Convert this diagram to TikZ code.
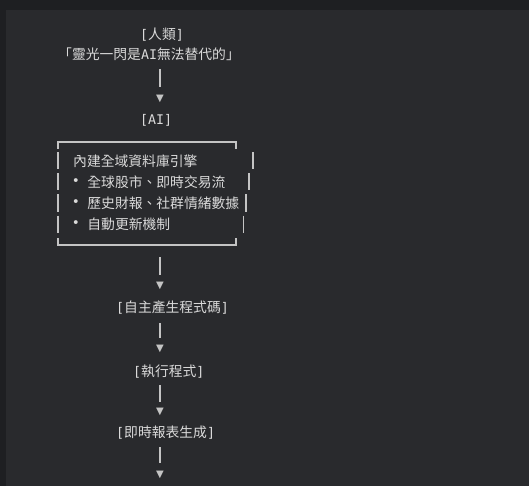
\documentclass[tikz,border=0pt]{standalone}
\usepackage{fontspec}
\setmainfont{DejaVu Sans Mono}
\newfontfamily\cjk{Noto Sans CJK TC}
\newfontfamily\sym{DejaVu Sans}
\usetikzlibrary{positioning}
\definecolor{bgdark}{HTML}{1E1F22}
\definecolor{panel}{HTML}{292A2D}
\definecolor{txt}{HTML}{DADADA}
\definecolor{rule}{HTML}{C4C4C4}
\tikzset{
 lbl/.style={anchor=west, inner sep=0, text=txt, font=\fontsize{13.3}{15}\selectfont},
 dot/.style={inner sep=0, text=txt, font=\fontsize{13.3}{15}\selectfont},
 bar/.style={rule, line width=1.6pt},
 tri/.style={inner sep=0, text=rule, font=\sym\fontsize{10}{11}\selectfont},
}
\newcommand{\zh}[1]{{\cjk\fontsize{13.8}{15}\selectfont #1}}

\begin{document}
\begin{tikzpicture}[x=1pt, y=-1pt]
\useasboundingbox (0,0) rectangle (529,486);
\fill[bgdark] (0,0) rectangle (529,486);
\fill[panel] (6,10) rectangle (529,486);

\node[lbl] (human) at (140,35) {[\zh{人類}]};
\node[lbl] (quote) at (58,54) {\zh{「靈光一閃是}AI\zh{無法替代的」}};
\node[lbl] (ai) at (140,120) {[AI]};
\node[lbl] (code) at (116,308) {[\zh{自主產生程式碼}]};
\node[lbl] (run) at (133,372) {[\zh{執行程式}]};
\node[lbl] (report) at (116,433) {[\zh{即時報表生成}]};

\node[lbl] (row1) at (73,161) {\zh{內建全域資料庫引擎}};
\foreach \n/\y in {2/182, 3/203, 4/224} {
 \node[dot] (bul\n) at (76,\y) {•};
}
\node[lbl, right=7pt of bul2] (row2) {\zh{全球股市、即時交易流}};
\node[lbl, right=7pt of bul3] (row3) {\zh{歷史財報、社群情緒數據}};
\node[lbl, right=7pt of bul4] (row4) {\zh{自動更新機制}};

\draw[bar] (58,149) -- (58,142) -- (236,142) -- (236,149);
\draw[bar] (58,238) -- (58,245) -- (236,245) -- (236,238);
\foreach \y/\xr in {161/252.7, 182/249, 203/245.7, 224/243.3} {
 \draw[bar] (58,\y-8.5) --++(0,17);
 \draw[bar] (\xr,\y-8.5) --++(0,17);
}

\foreach \n/\ys/\ye/\yt in {1/69/87/99, 2/257/275/286, 3/323/338/349, 4/385/402/412, 5/447/463/475} {
 \draw[bar] (160,\ys) coordinate (bar\n a) -- (160,\ye) coordinate (bar\n b);
 \node[tri] (tip\n) at (160,\yt) {▼};
}
\end{tikzpicture}
\end{document}
